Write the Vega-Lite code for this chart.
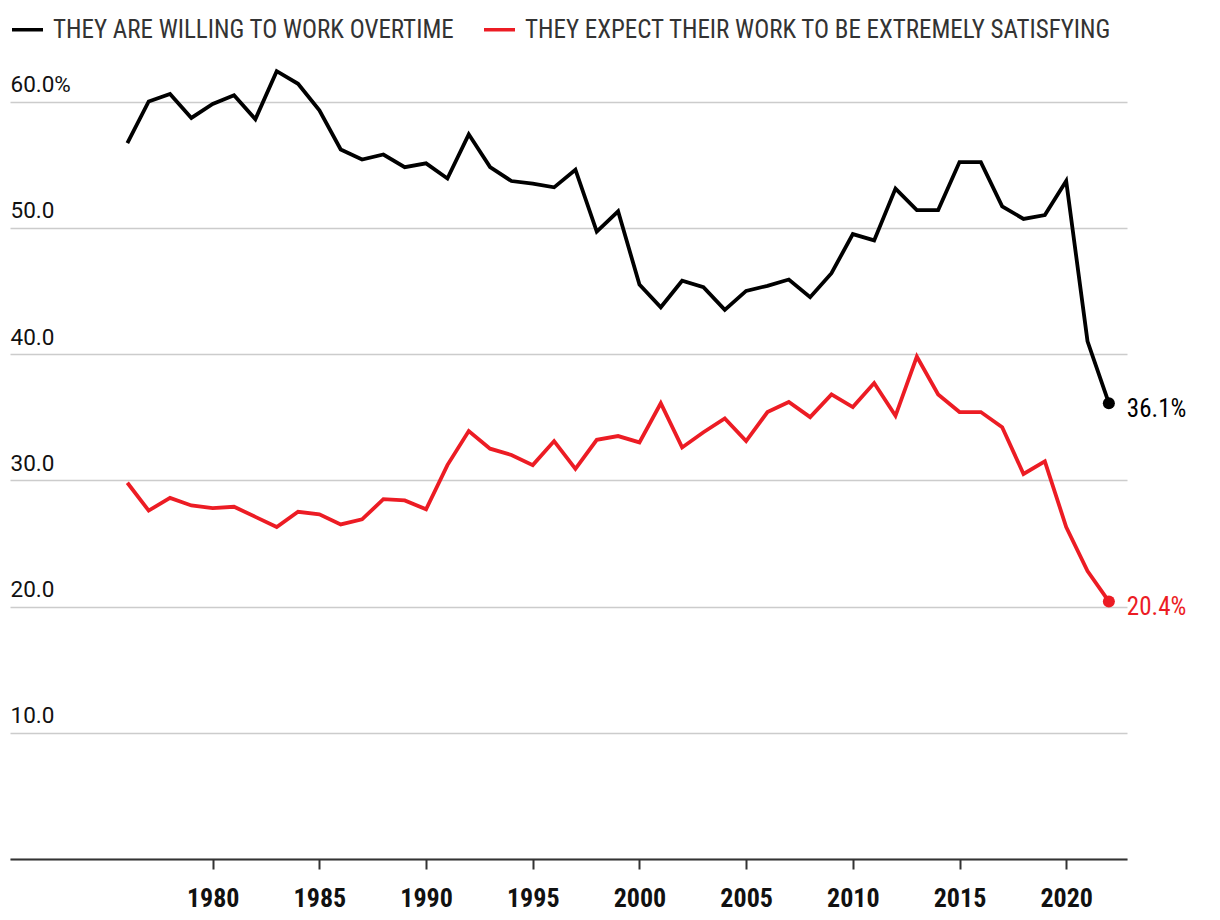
{
  "$schema": "https://vega.github.io/schema/vega-lite/v6.json",
  "autosize": {"type": "none"},
  "padding": {"left": 10, "top": 51, "right": 93, "bottom": 61},
  "width": 1117,
  "height": 808,
  "background": "white",
  "config": {
    "view": {"stroke": null},
    "font": "Roboto Condensed, Roboto",
    "text": {"font": "Roboto Condensed, Roboto"}
  },
  "data": {
    "values": [
      {"year": 1976, "overtime": 56.7, "satisfying": 29.8},
      {"year": 1977, "overtime": 60.0, "satisfying": 27.6},
      {"year": 1978, "overtime": 60.6, "satisfying": 28.6},
      {"year": 1979, "overtime": 58.7, "satisfying": 28.0},
      {"year": 1980, "overtime": 59.8, "satisfying": 27.8},
      {"year": 1981, "overtime": 60.5, "satisfying": 27.9},
      {"year": 1982, "overtime": 58.6, "satisfying": 27.1},
      {"year": 1983, "overtime": 62.4, "satisfying": 26.3},
      {"year": 1984, "overtime": 61.4, "satisfying": 27.5},
      {"year": 1985, "overtime": 59.3, "satisfying": 27.3},
      {"year": 1986, "overtime": 56.2, "satisfying": 26.5},
      {"year": 1987, "overtime": 55.4, "satisfying": 26.9},
      {"year": 1988, "overtime": 55.8, "satisfying": 28.5},
      {"year": 1989, "overtime": 54.8, "satisfying": 28.4},
      {"year": 1990, "overtime": 55.1, "satisfying": 27.7},
      {"year": 1991, "overtime": 53.9, "satisfying": 31.2},
      {"year": 1992, "overtime": 57.4, "satisfying": 33.9},
      {"year": 1993, "overtime": 54.8, "satisfying": 32.5},
      {"year": 1994, "overtime": 53.7, "satisfying": 32.0},
      {"year": 1995, "overtime": 53.5, "satisfying": 31.2},
      {"year": 1996, "overtime": 53.2, "satisfying": 33.1},
      {"year": 1997, "overtime": 54.6, "satisfying": 30.9},
      {"year": 1998, "overtime": 49.7, "satisfying": 33.2},
      {"year": 1999, "overtime": 51.3, "satisfying": 33.5},
      {"year": 2000, "overtime": 45.5, "satisfying": 33.0},
      {"year": 2001, "overtime": 43.7, "satisfying": 36.1},
      {"year": 2002, "overtime": 45.8, "satisfying": 32.6},
      {"year": 2003, "overtime": 45.3, "satisfying": 33.8},
      {"year": 2004, "overtime": 43.5, "satisfying": 34.9},
      {"year": 2005, "overtime": 45.0, "satisfying": 33.1},
      {"year": 2006, "overtime": 45.4, "satisfying": 35.4},
      {"year": 2007, "overtime": 45.9, "satisfying": 36.2},
      {"year": 2008, "overtime": 44.5, "satisfying": 35.0},
      {"year": 2009, "overtime": 46.4, "satisfying": 36.8},
      {"year": 2010, "overtime": 49.5, "satisfying": 35.8},
      {"year": 2011, "overtime": 49.0, "satisfying": 37.7},
      {"year": 2012, "overtime": 53.1, "satisfying": 35.1},
      {"year": 2013, "overtime": 51.4, "satisfying": 39.8},
      {"year": 2014, "overtime": 51.4, "satisfying": 36.8},
      {"year": 2015, "overtime": 55.2, "satisfying": 35.4},
      {"year": 2016, "overtime": 55.2, "satisfying": 35.4},
      {"year": 2017, "overtime": 51.7, "satisfying": 34.2},
      {"year": 2018, "overtime": 50.7, "satisfying": 30.5},
      {"year": 2019, "overtime": 51.0, "satisfying": 31.5},
      {"year": 2020, "overtime": 53.7, "satisfying": 26.3},
      {"year": 2021, "overtime": 41.0, "satisfying": 22.8},
      {"year": 2022, "overtime": 36.1, "satisfying": 20.4}
    ]
  },
  "transform": [
    {"fold": ["overtime", "satisfying"], "as": ["series", "value"]}
  ],
  "encoding": {
    "x": {
      "field": "year",
      "type": "quantitative",
      "scale": {"domain": [1970.5, 2022.85], "nice": false, "zero": false},
      "axis": {
        "title": null,
        "values": [1980, 1985, 1990, 1995, 2000, 2005, 2010, 2015, 2020],
        "format": "d",
        "grid": false,
        "domainColor": "#333333",
        "domainWidth": 2,
        "tickColor": "#333333",
        "tickWidth": 2,
        "tickSize": 10,
        "labelFontSize": 26,
        "labelFontWeight": "bold",
        "labelColor": "#111111",
        "labelPadding": 16,
        "labelFont": "Roboto Condensed, Roboto"
      }
    },
    "y": {
      "field": "value",
      "type": "quantitative",
      "scale": {"domain": [0, 64], "nice": false},
      "axis": {
        "title": null,
        "values": [0, 10, 20, 30, 40, 50, 60],
        "domain": false,
        "ticks": false,
        "tickSize": 0,
        "grid": true,
        "gridColor": "#cccccc",
        "gridWidth": 1.5,
        "labelAlign": "left",
        "labelBaseline": "alphabetic",
        "labelPadding": 0,
        "labelOffset": -10,
        "labelFontSize": 22.5,
        "labelColor": "#111111",
        "labelFont": "Roboto",
        "labelExpr": "datum.value == 0 ? '' : (datum.value == 60 ? '60.0%' : format(datum.value, '.1f'))"
      }
    },
    "color": {
      "field": "series",
      "type": "nominal",
      "scale": {"domain": ["overtime", "satisfying"], "range": ["#000000", "#ec1c24"]},
      "legend": {
        "title": null,
        "orient": "none",
        "legendX": 0,
        "legendY": -39,
        "direction": "horizontal",
        "padding": 0,
        "symbolType": "stroke",
        "symbolSize": 961,
        "symbolStrokeWidth": 3.5,
        "labelFontSize": 25,
        "labelColor": "#333333",
        "labelFont": "Roboto Condensed, Roboto",
        "labelOffset": 8,
        "columnPadding": 22,
        "labelLimit": 1000,
        "labelExpr": "datum.value == 'overtime' ? 'THEY ARE WILLING TO WORK OVERTIME' : 'THEY EXPECT THEIR WORK TO BE EXTREMELY SATISFYING'"
      }
    }
  },
  "layer": [
    {"mark": {"type": "line", "strokeWidth": 3.8, "strokeJoin": "miter"}},
    {
      "transform": [{"filter": "datum.year == 2022"}],
      "mark": {"type": "point", "filled": true, "size": 145, "opacity": 1}
    },
    {
      "transform": [
        {"filter": "datum.year == 2022"},
        {"calculate": "format(datum.value, '.1f') + '%'", "as": "label"}
      ],
      "mark": {"type": "text", "align": "left", "baseline": "alphabetic", "dx": 18, "dy": 14, "fontSize": 25, "font": "Roboto Condensed, Roboto"},
      "encoding": {"text": {"field": "label"}}
    }
  ]
}
